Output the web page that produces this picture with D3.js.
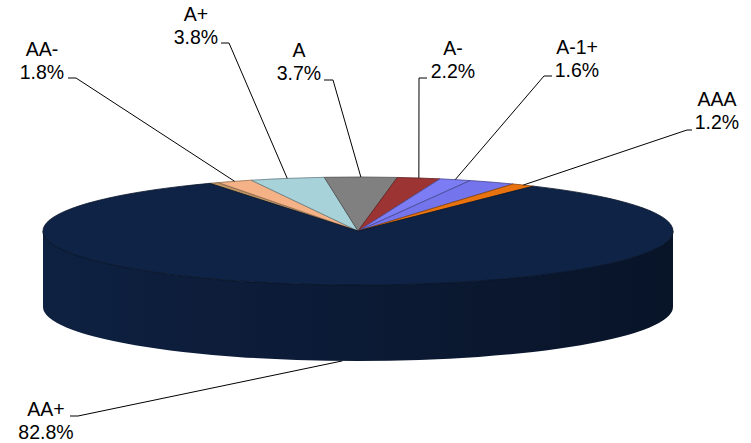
<!DOCTYPE html>
<html>
<head>
<meta charset="utf-8">
<script src="https://cdn.jsdelivr.net/npm/d3@7"></script>
<style>
  html, body { margin: 0; padding: 0; background: #ffffff; }
  svg { display: block; }
  text { font-family: "Liberation Sans", Arial, sans-serif; fill: #000; }
</style>
</head>
<body>
<svg id="chart" width="751" height="443"></svg>
<script>
// ---- data (clockwise from the back of the pie) ----
const categories = ["", "AA-", "A+", "A", "A-", "A-1+", "", "AAA", "AA+"];
const values     = [0.5, 1.8, 3.8, 3.7, 2.2, 1.6, 2.4, 1.2, 82.8];
const colors     = ["#BC9262", "#F4B286", "#A8D2DA", "#808080", "#9C3434", "#7C7CF4", "#7474EC", "#E8720E", "#0F2346"];

// ---- label layout (text centre x, 2nd-line baseline, leader start x, leader elbow x, leader y) ----
const labelLayout = [
  null,
  [42, 79, 68, 76, 78],
  [196, 44, 221, 229, 43],
  [299, 80, 324, 333, 80],
  [453, 78, 427, 419, 78],
  [577, 77, 552, 544, 76],
  null,
  [717, 129, 692, 687, 130],
  [46, 439, 70, 78, 416]
];

// ---- geometry ----
const W = 751, H = 443;
const cx = 358, cy = 231, rx = 315, ry = 54, depth = 76;
const startDeg = -28.1;

const svg = d3.select("#chart");
svg.append("rect").attr("width", W).attr("height", H).attr("fill", "#fff");

const data = categories.map((c, i) => ({ cat: c, value: values[i], color: colors[i], layout: labelLayout[i], i }));

const pie = d3.pie()
  .sort(null)
  .value(d => d.value)
  .startAngle(startDeg * Math.PI / 180)
  .endAngle(startDeg * Math.PI / 180 + 2 * Math.PI);
const arcs = pie(data);

// ellipse point for angle a (0 = back, clockwise)
const ex = a => cx + rx * Math.sin(a);
const ey = a => cy - ry * Math.cos(a);

const defs = svg.append("defs");

// ---- side walls (front half only: angles between PI/2 and 3PI/2) ----
const sideG = svg.append("g");
arcs.forEach((a, k) => {
  const a0 = a.startAngle, a1 = a.endAngle;
  const segs = [];
  for (let shift = -2 * Math.PI; shift <= 2 * Math.PI; shift += 2 * Math.PI) {
    const s = Math.max(a0 + shift, Math.PI / 2);
    const e = Math.min(a1 + shift, 3 * Math.PI / 2);
    if (e > s) segs.push([s, e]);
  }
  segs.forEach((sg, j) => {
    const [s, e] = sg;
    const base = d3.color(a.data.color);
    const gid = "side" + k + "_" + j;
    const grad = defs.append("linearGradient")
      .attr("id", gid).attr("gradientUnits", "userSpaceOnUse")
      .attr("x1", cx - rx).attr("y1", 0).attr("x2", cx + rx).attr("y2", 0);
    grad.append("stop").attr("offset", "0%").attr("stop-color", base.darker(0.2));
    grad.append("stop").attr("offset", "40%").attr("stop-color", base.darker(0.7));
    grad.append("stop").attr("offset", "75%").attr("stop-color", base.darker(1.2));
    grad.append("stop").attr("offset", "100%").attr("stop-color", base.darker(1.6));
    const large = (e - s) > Math.PI ? 1 : 0;
    const path =
      `M${ex(s)},${ey(s)}` +
      `A${rx},${ry} 0 ${large} 1 ${ex(e)},${ey(e)}` +
      `L${ex(e)},${ey(e) + depth}` +
      `A${rx},${ry} 0 ${large} 0 ${ex(s)},${ey(s) + depth}Z`;
    sideG.append("path").attr("d", path).attr("fill", `url(#${gid})`);
    sideG.append("path")
      .attr("d", `M${ex(s)},${ey(s)}A${rx},${ry} 0 ${large} 1 ${ex(e)},${ey(e)}`)
      .attr("fill", "none").attr("stroke", base.darker(1.3)).attr("stroke-width", 1.2).attr("opacity", 0.8);
  });
});

// ---- top face ----
const arcGen = d3.arc().innerRadius(0).outerRadius(rx);
const topG = svg.append("g").attr("transform", `translate(${cx},${cy}) scale(1,${ry / rx})`);
topG.selectAll("path.slice")
  .data(arcs)
  .join("path")
  .attr("class", "slice")
  .attr("d", arcGen)
  .attr("fill", d => d.data.color)
  .attr("stroke", d => d3.color(d.data.color).darker(1.4))
  .attr("stroke-width", 0.8)
  .attr("stroke-linejoin", "round")
  .attr("vector-effect", "non-scaling-stroke");

// ---- labels and leader lines ----
const pct = v => d3.format(".1f")(v) + "%";
const labG = svg.append("g");
arcs.forEach(a => {
  const L = a.data.layout;
  if (!L || !a.data.cat) return;
  const [tx, b2, lx0, lx1, ly] = L;
  const m = (a.startAngle + a.endAngle) / 2;
  const axp = ex(m);
  let ayp = ey(m);
  if (Math.cos(m) < 0) ayp += depth;
  labG.append("path")
    .attr("d", `M${lx0},${ly}L${lx1},${ly}L${axp},${ayp}`)
    .attr("fill", "none").attr("stroke", "#000").attr("stroke-width", 1);
  const t = labG.append("text").attr("text-anchor", "middle").attr("font-size", "19.5px");
  t.append("tspan").attr("x", tx).attr("y", b2 - 23).text(a.data.cat);
  t.append("tspan").attr("x", tx).attr("y", b2).text(pct(a.data.value));
});
</script>
</body>
</html>
